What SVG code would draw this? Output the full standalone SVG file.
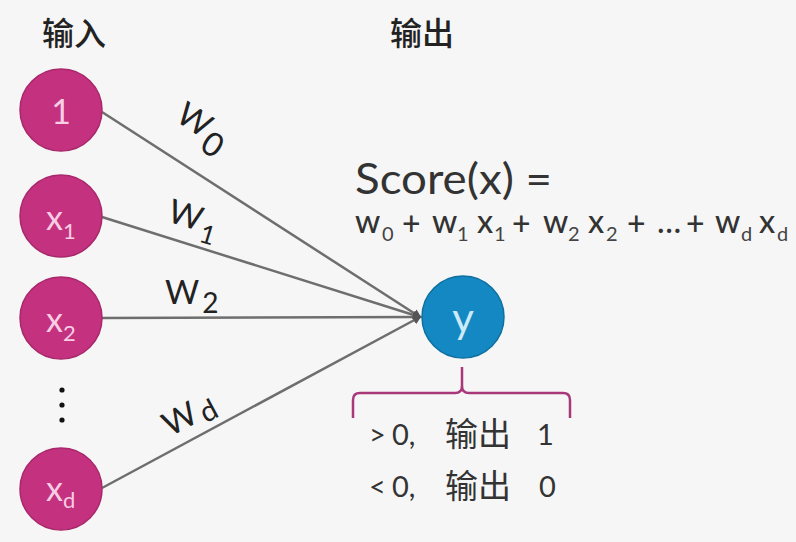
<svg xmlns="http://www.w3.org/2000/svg" width="796" height="542" viewBox="0 0 796 542">
<style>
.bg{fill:#f6f6f6}
.in{fill:#c4317f;stroke:#a8286b;stroke-width:1.5}
.out{fill:#1488c2;stroke:#0f6fa0;stroke-width:1.5}
.ct{font-family:"Lato","Liberation Sans",sans-serif;fill:#f9cde4;font-size:34px}
.sub{font-size:22px}
.yt{font-family:"Lato","Liberation Sans",sans-serif;fill:#cdeaf8;font-size:42px}
.title{font-family:"Noto Sans CJK SC",sans-serif;font-size:32px;fill:#222;font-weight:500}
.w{font-family:"Lato","Liberation Sans",sans-serif;font-size:33px;fill:#222}
.conn line{stroke:#6e6e6e;stroke-width:2.5}
.txt{font-family:"Lato","Liberation Sans","Noto Sans CJK SC",sans-serif;fill:#333}
.f{font-family:"Lato","Liberation Sans",sans-serif;fill:#333;font-size:32px;font-weight:500}
.fs{font-family:"Lato","Liberation Sans",sans-serif;fill:#444;font-size:20px}
.r{font-family:"Lato","Liberation Sans",sans-serif;fill:#333;font-size:29px}
.rc{font-family:"Noto Sans CJK SC",sans-serif;fill:#333;font-size:33px}
</style>
<defs>
<marker id="ah" markerWidth="9" markerHeight="9" refX="7" refY="4.5" orient="auto" markerUnits="userSpaceOnUse">
<path d="M0,0 L9,4.5 L0,9 z" fill="#555"/>
</marker>
</defs>
<rect class="bg" x="0" y="0" width="796" height="542"/>
<g id="titles">
<text class="title" x="42" y="45">输入</text>
<text class="title" x="390" y="45">输出</text>
</g>
<g id="connectors" class="conn">
<line x1="102" y1="112" x2="420" y2="317" marker-end="url(#ah)"/>
<line x1="102" y1="217" x2="420" y2="317" marker-end="url(#ah)"/>
<line x1="102" y1="318" x2="420" y2="317" marker-end="url(#ah)"/>
<line x1="102" y1="488" x2="420" y2="317" marker-end="url(#ah)"/>
</g>
<g id="weights">
<text class="w" transform="translate(174,120) rotate(33)">W<tspan dx="2" dy="11">0</tspan></text>
<text class="w" transform="translate(166,221) rotate(17)">W<tspan dx="2" dy="10" font-size="26">1</tspan></text>
<text class="w" transform="translate(165,304)">W<tspan dx="3" dy="9" font-size="28">2</tspan></text>
<text class="w" transform="translate(170,437) rotate(-28)">W<tspan dx="4" dy="5" font-size="29">d</tspan></text>
</g>
<g id="n1"><circle class="in" cx="61" cy="110" r="41"/><text class="ct" x="61" y="124" text-anchor="middle" font-size="38">1</text></g>
<g id="nx1"><circle class="in" cx="61" cy="216" r="41"/><text class="ct" x="46" y="230">x<tspan class="sub" dy="9">1</tspan></text></g>
<g id="nx2"><circle class="in" cx="61" cy="318" r="41"/><text class="ct" x="46" y="332">x<tspan class="sub" dy="9">2</tspan></text></g>
<g id="dots" fill="#111"><circle cx="62" cy="390" r="2.6"/><circle cx="62" cy="405" r="2.6"/><circle cx="62" cy="420" r="2.6"/></g>
<g id="nxd"><circle class="in" cx="61" cy="489" r="41"/><text class="ct" x="46" y="501">x<tspan class="sub" dy="7">d</tspan></text></g>
<g id="ny"><circle class="out" cx="463" cy="317" r="41"/><text class="yt" x="463" y="333" text-anchor="middle">y</text></g>
<g id="score">
<text class="txt" x="355" y="194" font-size="43" textLength="197" lengthAdjust="spacingAndGlyphs">Score(x) =</text>
<text class="f" x="355" y="233">w</text><text class="fs" x="382" y="241">0</text>
<text class="f" x="402" y="235">+</text>
<text class="f" x="432" y="233">w</text><text class="fs" x="457" y="241">1</text>
<text class="f" x="477" y="233">x</text><text class="fs" x="494" y="241">1</text>
<text class="f" x="512" y="235">+</text>
<text class="f" x="543" y="233">w</text><text class="fs" x="568" y="241">2</text>
<text class="f" x="588" y="233">x</text><text class="fs" x="606" y="241">2</text>
<text class="f" x="627" y="235">+</text>
<text class="f" x="657" y="233" font-size="22">…</text>
<text class="f" x="686" y="235">+</text>
<text class="f" x="715" y="233">w</text><text class="fs" x="741" y="241">d</text>
<text class="f" x="759" y="233">x</text><text class="fs" x="777" y="241">d</text>
</g>
<g id="bracket">
<path d="M353,418 L353,400 Q353,393 360,393 L455,393 Q462,393 462,386 L462,367 M462,386 Q462,393 469,393 L563,393 Q570,393 570,400 L570,418" fill="none" stroke="#a8387a" stroke-width="2.5"/>
</g>
<g id="rules">
<text class="r" x="369" y="445">&gt;</text><text class="r" x="392" y="445">0,</text><text class="rc" x="445" y="446">输出</text><text class="r" x="537" y="445">1</text>
<text class="r" x="369" y="497">&lt;</text><text class="r" x="392" y="497">0,</text><text class="rc" x="445" y="498">输出</text><text class="r" x="539" y="497">0</text>
</g>
</svg>
